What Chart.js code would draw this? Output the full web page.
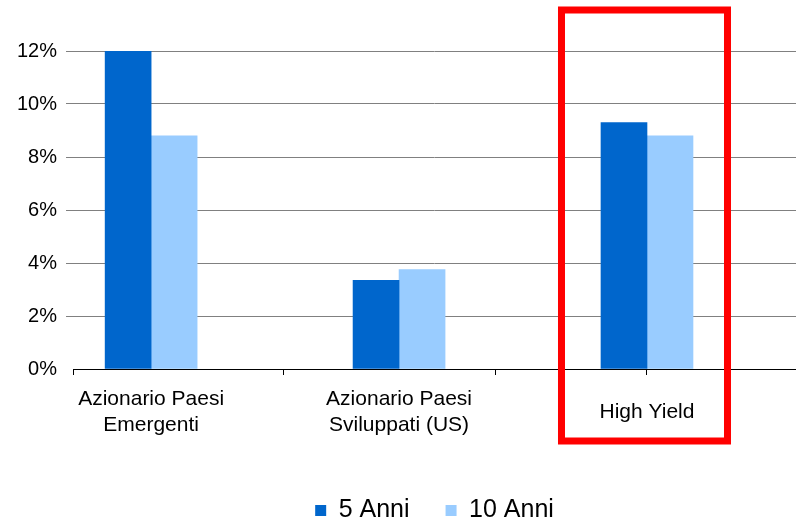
<!DOCTYPE html>
<html>
<head>
<meta charset="utf-8">
<script src="https://cdn.jsdelivr.net/npm/chart.js@4/dist/chart.umd.min.js"></script>
<style>
  html, body { margin: 0; padding: 0; background: #fff; }
  #wrap { width: 796px; height: 523px; }
</style>
</head>
<body>
<div id="wrap"><canvas id="rendChart"></canvas></div>
<script>
// categorie (ogni riga dell'etichetta separata)
const categorie = [
    ['Azionario Paesi', 'Emergenti'],
    ['Azionario Paesi', 'Sviluppati (US)'],
    'High Yield'
];
const anni5 = [12.0, 3.35, 9.3];
const anni10 = [8.8, 3.75, 8.8];
const tickY = [0, 2, 4, 6, 8, 10, 12];

// posizioni dei trattini sull'asse x (separatori + High Yield)
const trattiniX = [-0.315, 0.532, 1.387, 2];

const fontBase = "'Liberation Sans', Arial, sans-serif";

// riquadro rosso attorno a High Yield
const riquadroRosso = {
    id: 'riquadroRosso',
    afterDraw(chart) {
        const ctx = chart.ctx;
        const cx = chart.scales.x.getPixelForValue(2);
        const area = chart.chartArea;
        ctx.save();
        ctx.strokeStyle = '#ff0000';
        ctx.lineWidth = 7;
        ctx.strokeRect(cx - 85.5, area.top - 41, 166, area.bottom - area.top + 113);
        ctx.restore();
    }
};

const ctx = document.getElementById('rendChart').getContext('2d');

const rendChart = new Chart(ctx, {
    type: 'bar',
    data: {
        datasets: [{
            label: '5 Anni',
            data: anni5.map((v, i) => ({ x: i, y: v })),
            backgroundColor: '#0066cc',
            borderWidth: 0,
            barThickness: 46
        }, {
            label: '10 Anni',
            data: anni10.map((v, i) => ({ x: i, y: v })),
            backgroundColor: '#99ccff',
            borderWidth: 0,
            barThickness: 46
        }]
    },
    options: {
        responsive: true,
        maintainAspectRatio: false,
        animation: false,
        layout: {
            padding: { top: 51, left: 8, right: 0, bottom: -10 }
        },
        plugins: {
            tooltip: { enabled: false },
            legend: {
                position: 'bottom',
                fullSize: false,
                labels: {
                    boxWidth: 11,
                    boxHeight: 11,
                    padding: 36,
                    color: '#000',
                    font: { family: fontBase, size: 25 }
                }
            }
        },
        scales: {
            x: {
                type: 'linear',
                bounds: 'data',
                offset: false,
                min: -0.315,
                max: 2.601,
                afterBuildTicks: (scale) => {
                    const valori = [0, 1, 2].concat(trattiniX.filter(v => v !== 2));
                    valori.sort((a, b) => a - b);
                    scale.ticks = valori.map(v => ({ value: v }));
                },
                afterFit: (scale) => {
                    scale.height = 93;
                },
                ticks: {
                    autoSkip: false,
                    maxRotation: 0,
                    minRotation: 0,
                    padding: 24,
                    crossAlign: 'center',
                    color: '#000',
                    font: { family: fontBase, size: 21, lineHeight: 1.25 },
                    callback: (value) => Number.isInteger(value) ? categorie[value] : ''
                },
                grid: {
                    offset: false,
                    drawOnChartArea: false,
                    drawTicks: true,
                    tickLength: 6,
                    color: (c) => (c.tick && trattiniX.includes(c.tick.value)) ? '#000' : 'rgba(0,0,0,0)'
                },
                border: { display: true, color: '#000', width: 1 }
            },
            y: {
                min: 0,
                max: 12,
                afterBuildTicks: (scale) => {
                    scale.ticks = tickY.map(v => ({ value: v }));
                },
                ticks: {
                    padding: 9,
                    color: '#000',
                    font: { family: fontBase, size: 20 },
                    callback: (value) => value + '%'
                },
                grid: {
                    tickLength: 7,
                    lineWidth: 1,
                    color: (c) => (c.tick && c.tick.value === 0) ? 'rgba(0,0,0,0)' : '#808080'
                },
                border: { display: false }
            }
        }
    },
    plugins: [riquadroRosso]
});
</script>
</body>
</html>
